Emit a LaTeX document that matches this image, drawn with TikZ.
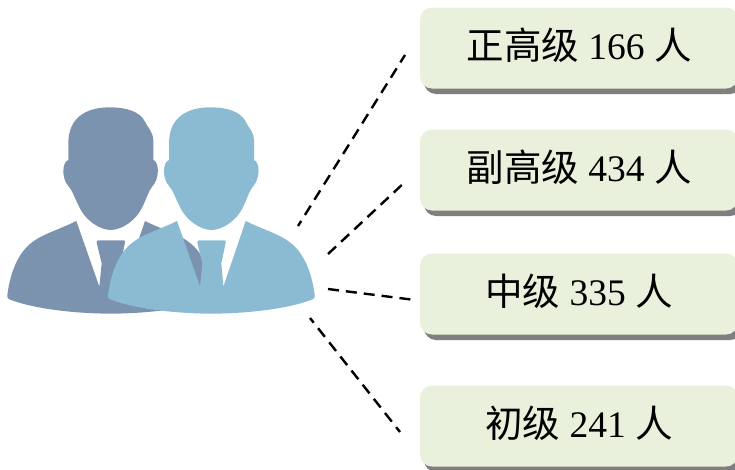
\documentclass[tikz,border=0pt]{standalone}
\usepackage{fontspec}
\setmainfont{Liberation Serif}
\newfontfamily\cjk{Noto Sans CJK SC}
\usetikzlibrary{positioning,shadows}
\definecolor{boxgreen}{HTML}{E9F0DC}
\definecolor{boxshadow}{HTML}{7F7F7F}
\definecolor{mandark}{HTML}{7C93AF}
\definecolor{manlight}{HTML}{8BBBD3}
\tikzset{
  rank/.style={rectangle,rounded corners=12pt,fill=boxgreen,minimum width=318pt,minimum height=81pt,
    inner sep=0pt,font=\fontsize{37.5}{37.5}\selectfont,
    drop shadow={shadow xshift=4pt,shadow yshift=-5.5pt,fill=boxshadow,opacity=1}},
  link/.style={black,line width=2.4pt,dash pattern=on 11pt off 7pt},
  pics/man/.style={code={
    \begin{scope}[scale=0.3333]
      \fill[#1] (330,52) .. controls (255,52) and (205,85) .. (205,160) -- (205,210)
        .. controls (186,216) and (184,265) .. (205,288) .. controls (218,302) and (222,320) .. (235,345)
        .. controls (255,392) and (300,420) .. (332,420) .. controls (365,420) and (410,392) .. (430,345)
        .. controls (442,320) and (446,302) .. (458,288) .. controls (479,265) and (478,216) .. (460,210)
        -- (460,150) .. controls (458,122) and (442,112) .. (435,95) .. controls (420,65) and (380,52) .. (330,52) -- cycle;
      \fill[#1] (229,393) -- (298,590) -- (305,520) -- (290,458) .. controls (290,452) and (292,451) .. (296,451)
        -- (370,451) .. controls (374,451) and (376,452) .. (375,458) -- (362,520) -- (368,590) -- (435,393)
        .. controls (490,420) and (535,432) .. (565,455) .. controls (615,490) and (635,560) .. (642,615)
        .. controls (643,622) and (641,626) .. (636,628)
        .. controls (560,658) and (430,671) .. (332,671) .. controls (234,671) and (104,658) .. (28,628)
        .. controls (23,626) and (21,622) .. (22,615)
        .. controls (29,560) and (49,490) .. (99,455) .. controls (129,432) and (174,420) .. (229,393) -- cycle;
    \end{scope}
  }}
}
\begin{document}
\begin{tikzpicture}[x=1pt,y=-1pt,on grid]
  \useasboundingbox (0,0) rectangle (735,469);
  \pic at (0,90) {man=mandark};
  \pic at (100.7,90) {man=manlight};

  \node[rank] (zheng) at (579,48) {\raisebox{9pt}{{\cjk 正高级} 166 {\cjk 人}}};
  \node[rank] (fu)    [below=122pt of zheng] {\raisebox{9pt}{{\cjk 副高级} 434 {\cjk 人}}};
  \node[rank] (zhong) [below=124pt of fu] {\raisebox{9pt}{{\cjk 中级} 335 {\cjk 人}}};
  \node[rank] (chu)   [below=132pt of zhong] {\raisebox{9pt}{{\cjk 初级} 241 {\cjk 人}}};

  \coordinate (a0) at (298,226);
  \coordinate (a1) at (405,55);
  \coordinate (b0) at (328,254);
  \coordinate (b1) at (405,182);
  \coordinate (c0) at (328,289);
  \coordinate (c1) at (415,300);
  \coordinate (d0) at (310,318);
  \coordinate (d1) at (400,432);

  \draw[link,dash phase=5pt] (a0) -- (a1);
  \draw[link] (b0) -- (b1);
  \draw[link] (c0) -- (c1);
  \draw[link,dash phase=5pt] (d0) -- (d1);
\end{tikzpicture}
\end{document}
